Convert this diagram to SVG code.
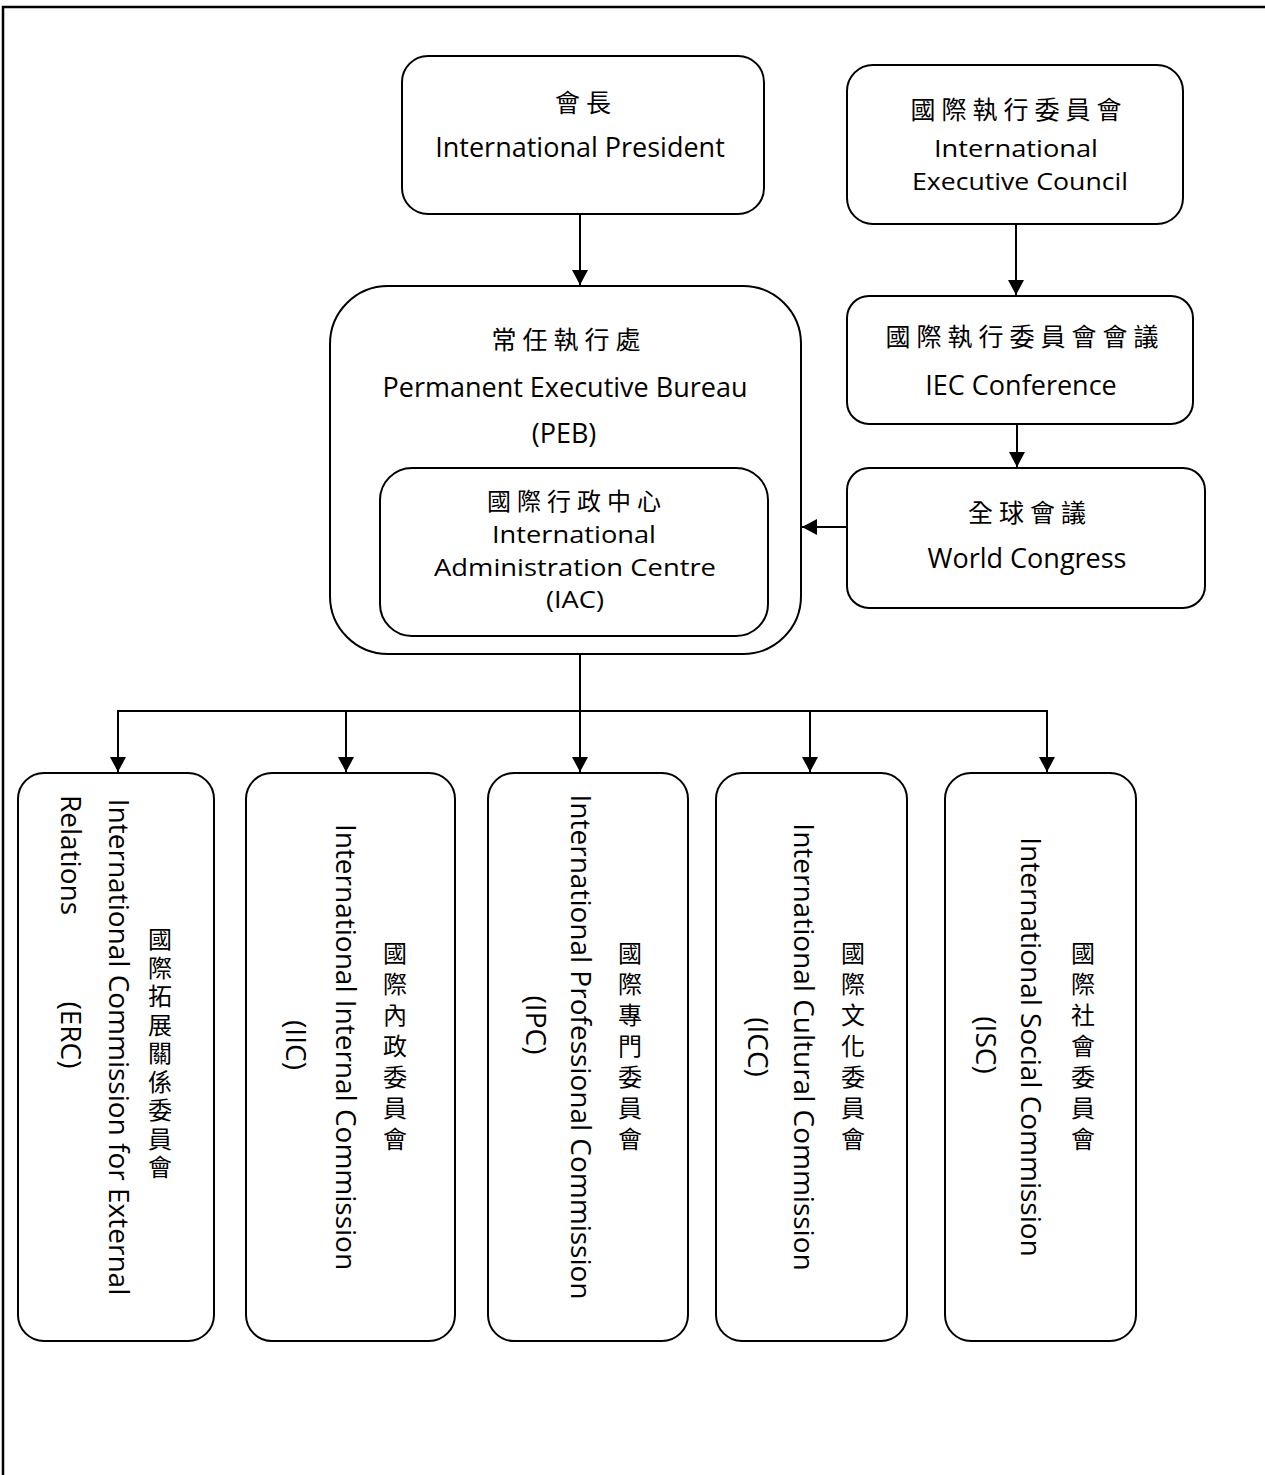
<svg xmlns="http://www.w3.org/2000/svg" width="1265" height="1475" viewBox="0 0 1265 1475">
<defs>
<style>
.box{fill:#fff;stroke:#000;stroke-width:2}
.frame{fill:none;stroke:#000;stroke-width:2.5}
.conn{fill:none;stroke:#000;stroke-width:2}
.t{font-family:"Open Sans","Noto Sans CJK TC",sans-serif;font-size:27px;fill:#000;text-anchor:middle}
.ts{font-size:24px}
.cj{font-family:"Noto Sans CJK TC","Noto Sans CJK SC",sans-serif;font-size:25px;fill:#000;text-anchor:middle;letter-spacing:6px}
.v{font-family:"Open Sans","Noto Sans CJK TC",sans-serif;font-size:28px;fill:#000;text-anchor:middle}
.vc{font-family:"Noto Sans CJK TC","Noto Sans CJK SC",sans-serif;font-size:24px;fill:#000;text-anchor:middle}
</style>
<marker id="ah" viewBox="0 0 15 16" refX="15" refY="8" markerWidth="15" markerHeight="16" markerUnits="userSpaceOnUse" orient="auto">
<path d="M0,0 L15,8 L0,16 Z" fill="#000"/>
</marker>
</defs>
<rect x="0" y="0" width="1265" height="1475" fill="#fff"/>
<path class="frame" d="M3,1480 L3,7 L1270,7"/>

<g id="connectors">
<line class="conn" x1="580" y1="214" x2="580" y2="285" marker-end="url(#ah)"/>
<line class="conn" x1="1016" y1="224" x2="1016" y2="295" marker-end="url(#ah)"/>
<line class="conn" x1="1017" y1="424" x2="1017" y2="467" marker-end="url(#ah)"/>
<line class="conn" x1="847" y1="527" x2="802" y2="527" marker-end="url(#ah)"/>
<line class="conn" x1="580" y1="654" x2="580" y2="772" marker-end="url(#ah)"/>
<polyline class="conn" points="118,772 118,711 1047,711 1047,772" marker-end="url(#ah)"/>
<line class="conn" x1="118" y1="711" x2="118" y2="772" marker-end="url(#ah)"/>
<line class="conn" x1="346" y1="711" x2="346" y2="772" marker-end="url(#ah)"/>
<line class="conn" x1="810" y1="711" x2="810" y2="772" marker-end="url(#ah)"/>
</g>

<g id="president">
<rect class="box" x="402" y="56" width="362" height="158" rx="26"/>
<text class="cj" x="586" y="112">會長</text>
<text class="t" x="580" y="157">International President</text>
</g>

<g id="iec">
<rect class="box" x="847" y="65" width="336" height="159" rx="26"/>
<text class="cj" x="1019" y="119">國際執行委員會</text>
<text class="t ts" x="1016" y="157" textLength="164" lengthAdjust="spacingAndGlyphs">International</text>
<text class="t ts" x="1020" y="190" textLength="216" lengthAdjust="spacingAndGlyphs">Executive Council</text>
</g>

<g id="iec-conference">
<rect class="box" x="847" y="296" width="346" height="128" rx="22"/>
<text class="cj" x="1025" y="346">國際執行委員會會議</text>
<text class="t" x="1021" y="395">IEC Conference</text>
</g>

<g id="world-congress">
<rect class="box" x="847" y="468" width="358" height="140" rx="22"/>
<text class="cj" x="1030" y="522">全球會議</text>
<text class="t" x="1027" y="568">World Congress</text>
</g>

<g id="peb">
<rect class="box" x="330" y="286" width="471" height="368" rx="58"/>
<text class="cj" x="569" y="349">常任執行處</text>
<text class="t" x="565" y="397">Permanent Executive Bureau</text>
<text class="t" x="564" y="443">(PEB)</text>
</g>

<g id="iac">
<rect class="box" x="380" y="468" width="388" height="168" rx="32"/>
<text class="cj" x="577" y="510" style="font-size:24px">國際行政中心</text>
<text class="t ts" x="574" y="543" textLength="164" lengthAdjust="spacingAndGlyphs">International</text>
<text class="t ts" x="575" y="576" textLength="282" lengthAdjust="spacingAndGlyphs">Administration Centre</text>
<text class="t ts" x="575" y="608" textLength="58" lengthAdjust="spacingAndGlyphs">(IAC)</text>
</g>

<g id="erc">
<rect class="box" x="18" y="773" width="196" height="568" rx="26"/>
<text class="vc"><tspan x="160" y="948">國</tspan><tspan x="160" y="976.5">際</tspan><tspan x="160" y="1005">拓</tspan><tspan x="160" y="1033.5">展</tspan><tspan x="160" y="1062">關</tspan><tspan x="160" y="1090.5">係</tspan><tspan x="160" y="1119">委</tspan><tspan x="160" y="1147.5">員</tspan><tspan x="160" y="1176">會</tspan></text>
<text class="v" transform="translate(109,1047) rotate(90)">International Commission for External</text>
<text class="v" style="text-anchor:start" transform="translate(61,795) rotate(90)">Relations</text>
<text class="v" transform="translate(61,1035) rotate(90)">(ERC)</text>
</g>

<g id="iic">
<rect class="box" x="246" y="773" width="209" height="568" rx="26"/>
<text class="vc"><tspan x="395" y="962">國</tspan><tspan x="395" y="993">際</tspan><tspan x="395" y="1024">內</tspan><tspan x="395" y="1055">政</tspan><tspan x="395" y="1086">委</tspan><tspan x="395" y="1117">員</tspan><tspan x="395" y="1148">會</tspan></text>
<text class="v" transform="translate(336,1047) rotate(90)">International Internal Commission</text>
<text class="v" transform="translate(286,1045) rotate(90)">(IIC)</text>
</g>

<g id="ipc">
<rect class="box" x="488" y="773" width="200" height="568" rx="26"/>
<text class="vc"><tspan x="630" y="962">國</tspan><tspan x="630" y="993">際</tspan><tspan x="630" y="1024">專</tspan><tspan x="630" y="1055">門</tspan><tspan x="630" y="1086">委</tspan><tspan x="630" y="1117">員</tspan><tspan x="630" y="1148">會</tspan></text>
<text class="v" transform="translate(571,1047) rotate(90)">International Professional Commission</text>
<text class="v" transform="translate(526,1025) rotate(90)">(IPC)</text>
</g>

<g id="icc">
<rect class="box" x="716" y="773" width="191" height="568" rx="26"/>
<text class="vc"><tspan x="853" y="962">國</tspan><tspan x="853" y="993">際</tspan><tspan x="853" y="1024">文</tspan><tspan x="853" y="1055">化</tspan><tspan x="853" y="1086">委</tspan><tspan x="853" y="1117">員</tspan><tspan x="853" y="1148">會</tspan></text>
<text class="v" transform="translate(794,1047) rotate(90)">International Cultural Commission</text>
<text class="v" transform="translate(748,1047) rotate(90)">(ICC)</text>
</g>

<g id="isc">
<rect class="box" x="945" y="773" width="191" height="568" rx="26"/>
<text class="vc"><tspan x="1083" y="962">國</tspan><tspan x="1083" y="993">際</tspan><tspan x="1083" y="1024">社</tspan><tspan x="1083" y="1055">會</tspan><tspan x="1083" y="1086">委</tspan><tspan x="1083" y="1117">員</tspan><tspan x="1083" y="1148">會</tspan></text>
<text class="v" transform="translate(1021,1047) rotate(90)">International Social Commission</text>
<text class="v" transform="translate(976,1045) rotate(90)">(ISC)</text>
</g>
</svg>
